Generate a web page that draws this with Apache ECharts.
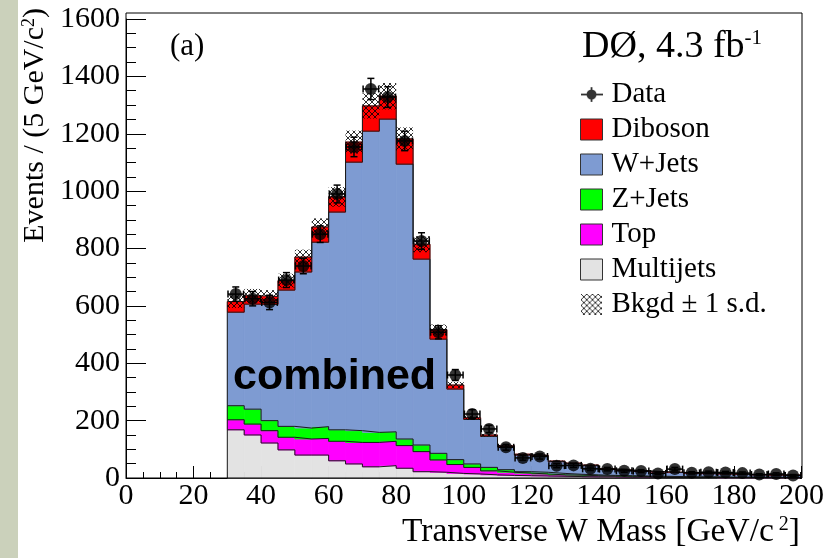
<!DOCTYPE html>
<html><head><meta charset="utf-8">
<script src="https://cdn.jsdelivr.net/npm/echarts@6/dist/echarts.min.js"></script>
<style>html,body{margin:0;padding:0;background:#fff}#c{width:827px;height:558px}</style>
</head><body><div id="c"></div>
<script>
// ---- data (bins of 5 GeV/c^2, lower edges) ----
const binLow = [30,35,40,45,50,55,60,65,70,75,80,85,90,95,100,105,110,115,120,125,130,135,140,145,150,155,160,165,170,175,180,185,190,195];
const binWidth = 5;
const multijets = [168,150,122,98,80,80,60,49,39,43,34,22,20,16,14,11,9,8,7,6,5,4,4,3,3,2,2,2,2,1,1,1,1,1];
const topQuark  = [35,38,43,44,56,58,68,75,85,85,79,70,43,31,23,14,11,9,7,5,5,4,3,3,2,2,2,1,1,1,1,1,1,1];
const zjets     = [49,52,35,38,38,41,40,41,35,33,23,23,23,17,12,12,9,5,6,5,3,3,2,2,2,2,1,1,1,1,1,1,0,0];
const wjets     = [326,366,405,475,544,643,759,936,1050,1090,958,648,398,246,155,108,79,58,56,41,37,32,21,19,17,15,14,13,11,11,9,8,8,7];
const diboson   = [37,29,28,33,52,53,53,70,88,80,88,52,33,14,6,5,4,3,3,2,2,2,2,1,1,1,1,1,1,1,1,1,1,1];
const bkgdErr   = [22,24,22,24,26,30,34,40,44,46,40,28,18,11,7,5,4,3,3,2,2,2,2,1,1,1,1,1,1,1,1,1,1,1];
const dataVals  = [641,625,612,690,739,850,990,1154,1356,1328,1175,826,508,359,223,171,107,70,75,43,44,32,31,25,24,16,31,18,20,19,17,12,14,9];
const dataErr   = [25,25,25,26,27,29,31,34,37,36,34,29,23,19,15,13,10,8,9,7,7,6,6,5,5,4,6,4,4,4,4,3,4,3];
const yTicks = [0,200,400,600,800,1000,1200,1400,1600];
const xTicks = [0,20,40,60,80,100,120,140,160,180,200];

const SERIF = "'Liberation Serif','Times New Roman',serif";

const comps = [
  {name:'Multijets', vals:multijets, color:'#e3e3e3'},
  {name:'Top',       vals:topQuark,  color:'#ff00ff'},
  {name:'Z+Jets',    vals:zjets,     color:'#00ff00'},
  {name:'W+Jets',    vals:wjets,     color:'#7e9bd2'},
  {name:'Diboson',   vals:diboson,   color:'#ff0000'}
];
let base = binLow.map(() => 0);
comps.forEach(c => { c.lo = base.slice(); c.hi = base.map((b,i) => b + c.vals[i]); base = c.hi; });
const total = base;

function hatchCanvas(){
  const cv = document.createElement('canvas'); cv.width = 6; cv.height = 6;
  const g = cv.getContext('2d');
  g.strokeStyle = 'rgba(0,0,0,0.9)'; g.lineWidth = 0.9;
  g.beginPath(); g.moveTo(0,0); g.lineTo(6,6); g.moveTo(6,0); g.lineTo(0,6); g.stroke();
  return cv;
}
const hatch = hatchCanvas();
function hatchIcon(){
  const cv = document.createElement('canvas'); cv.width = 22; cv.height = 22;
  const g = cv.getContext('2d');
  g.fillStyle = '#fff'; g.fillRect(0,0,22,22);
  g.fillStyle = g.createPattern(hatch,'repeat'); g.fillRect(0,0,22,22);
  return 'image://' + cv.toDataURL();
}
function dataIcon(){
  const cv = document.createElement('canvas'); cv.width = 24; cv.height = 22;
  const g = cv.getContext('2d');
  g.strokeStyle = '#000'; g.lineWidth = 2;
  g.beginPath(); g.moveTo(0,11); g.lineTo(24,11); g.moveTo(12,3); g.lineTo(12,19); g.stroke();
  g.fillStyle = '#000'; g.beginPath(); g.arc(12,11,5.5,0,Math.PI*2); g.fill();
  return 'image://' + cv.toDataURL();
}

const series = [];
comps.forEach(c => {
  series.push({
    type:'custom', name:c.name, z:2, silent:true,
    itemStyle:{color:c.color},
    data: binLow.map((x,i) => [x, x + binWidth, c.lo[i], c.hi[i]]),
    encode:{x:[0,1], y:[2,3]},
    renderItem:(params, api) => {
      const p0 = api.coord([api.value(0), api.value(3)]);
      const p1 = api.coord([api.value(1), api.value(2)]);
      return {type:'rect', shape:{x:p0[0], y:p0[1], width:p1[0]-p0[0], height:p1[1]-p0[1]},
              style:{fill:c.color, stroke:c.color, lineWidth:0.8}};
    }
  });
});
comps.forEach(c => {
  const pts = [[binLow[0], c.lo[0]]];
  binLow.forEach((x,i) => { pts.push([x, c.hi[i]]); pts.push([x + binWidth, c.hi[i]]); });
  pts.push([binLow[binLow.length-1] + binWidth, c.lo[c.lo.length-1]]);
  series.push({type:'line', name:'outline ' + c.name, data:pts, z:3, silent:true,
    showSymbol:false, symbol:'none', lineStyle:{color:'#1a1a1a', width:1}});
});
series.push({
  type:'custom', name:'Bkgd \u00b1 1 s.d.', z:4, silent:true,
  itemStyle:{color:'#888'},
  data: binLow.map((x,i) => [x, x + binWidth, total[i] - bkgdErr[i], total[i] + bkgdErr[i]]),
  encode:{x:[0,1], y:[2,3]},
  renderItem:(params, api) => {
    const p0 = api.coord([api.value(0), api.value(3)]);
    const p1 = api.coord([api.value(1), api.value(2)]);
    return {type:'rect', shape:{x:p0[0], y:p0[1], width:p1[0]-p0[0], height:p1[1]-p0[1]},
            style:{fill:{image:hatch, repeat:'repeat'}}};
  }
});
series.push({
  type:'custom', name:'Data errors', z:5, silent:true,
  data: binLow.map((x,i) => [x + binWidth/2, dataVals[i], dataErr[i]]),
  encode:{x:0, y:1},
  renderItem:(params, api) => {
    const x = api.value(0), y = api.value(1), e = api.value(2);
    const c = api.coord([x,y]), t = api.coord([x,y+e]), b = api.coord([x,y-e]);
    const l = api.coord([x - 2.3, y]), r = api.coord([x + 2.3, y]);
    const cap = 3.5, st = {stroke:'#000', lineWidth:1.5};
    return {type:'group', children:[
      {type:'line', shape:{x1:c[0], y1:t[1], x2:c[0], y2:b[1]}, style:st},
      {type:'line', shape:{x1:c[0]-cap, y1:t[1], x2:c[0]+cap, y2:t[1]}, style:st},
      {type:'line', shape:{x1:c[0]-cap, y1:b[1], x2:c[0]+cap, y2:b[1]}, style:st},
      {type:'line', shape:{x1:l[0], y1:c[1], x2:r[0], y2:c[1]}, style:st},
      {type:'line', shape:{x1:l[0], y1:c[1]-cap, x2:l[0], y2:c[1]+cap}, style:st},
      {type:'line', shape:{x1:r[0], y1:c[1]-cap, x2:r[0], y2:c[1]+cap}, style:st}
    ]};
  }
});
series.push({
  type:'scatter', name:'Data', z:6, silent:true, symbol:'circle', symbolSize:12,
  itemStyle:{color:'#000'},
  data: binLow.map((x,i) => [x + binWidth/2, dataVals[i]])
});

const legendData = [
  {name:'Data', icon:dataIcon()},
  {name:'Diboson', icon:'rect', itemStyle:{color:'#ff0000', borderColor:'#333', borderWidth:1}},
  {name:'W+Jets', icon:'rect', itemStyle:{color:'#7e9bd2', borderColor:'#333', borderWidth:1}},
  {name:'Z+Jets', icon:'rect', itemStyle:{color:'#00ff00', borderColor:'#333', borderWidth:1}},
  {name:'Top', icon:'rect', itemStyle:{color:'#ff00ff', borderColor:'#333', borderWidth:1}},
  {name:'Multijets', icon:'rect', itemStyle:{color:'#e3e3e3', borderColor:'#333', borderWidth:1}},
  {name:'Bkgd \u00b1 1 s.d.', icon:hatchIcon()}
];

const chart = echarts.init(document.getElementById('c'), null, {renderer:'canvas'});
chart.setOption({
  animation:false,
  backgroundColor:'#ffffff',
  grid:{left:126, right:25, top:19, bottom:80, containLabel:false},
  xAxis:{type:'value', min:0, max:200, interval:20,
    axisLine:{show:true, lineStyle:{color:'#000', width:1}},
    axisTick:{show:true, inside:true, length:12, lineStyle:{color:'#000'}},
    minorTick:{show:true, splitNumber:4, length:6, lineStyle:{color:'#000'}},
    splitLine:{show:false},
    axisLabel:{color:'#000', fontFamily:SERIF, fontSize:30, margin:3,
      formatter:v => xTicks.indexOf(v) >= 0 ? String(v) : ''}
  },
  yAxis:{type:'value', min:0, max:1600, interval:200,
    axisLine:{show:true, lineStyle:{color:'#000', width:1}},
    axisTick:{show:true, inside:true, length:20, lineStyle:{color:'#000'}},
    minorTick:{show:true, splitNumber:4, length:10, lineStyle:{color:'#000'}},
    splitLine:{show:false},
    axisLabel:{color:'#000', fontFamily:SERIF, fontSize:30, margin:6,
      formatter:v => yTicks.indexOf(v) >= 0 ? String(v) : ''}
  },
  legend:{orient:'vertical', left:580, top:80, padding:0, itemWidth:22, itemHeight:21, itemGap:6,
    selectedMode:false, data:legendData,
    textStyle:{fontFamily:SERIF, fontSize:29, color:'#000', padding:[0,0,0,4]}},
  graphic:[
    {type:'rect', shape:{x:0, y:0, width:18, height:558}, style:{fill:'#cbd1bb'}, silent:true},
    {type:'rect', shape:{x:126, y:13, width:676, height:465}, style:{fill:null, stroke:'#000', lineWidth:1}, silent:true, z:10},
    {type:'text', x:170, y:47, style:{text:'(a)', font:'31px ' + SERIF, fill:'#000', textVerticalAlign:'middle'}},
    {type:'text', x:582, y:47, style:{text:'{n|D\u00d8, 4.3 fb}{s|-1}', textVerticalAlign:'middle',
      rich:{n:{fontFamily:SERIF, fontSize:38, color:'#000'}, s:{fontFamily:SERIF, fontSize:21, color:'#000', verticalAlign:'top'}}}},
    {type:'text', x:233, y:377, z:20, style:{text:'combined', font:'bold 43px "Liberation Sans", Arial, sans-serif', fill:'#000', textVerticalAlign:'middle'}},
    {type:'text', x:800, y:532, style:{text:'{n|Transverse W Mass [GeV/c}{s| 2}{n|]}', textAlign:'right', textVerticalAlign:'middle',
      rich:{n:{fontFamily:SERIF, fontSize:33.5, color:'#000'}, s:{fontFamily:SERIF, fontSize:20, color:'#000', verticalAlign:'top'}}}},
    {type:'text', x:20, y:8, rotation:Math.PI/2, style:{text:'{n|Events / (5 GeV/c}{s|2}{n|)}', textAlign:'right', textVerticalAlign:'top',
      rich:{n:{fontFamily:SERIF, fontSize:30, color:'#000'}, s:{fontFamily:SERIF, fontSize:18, color:'#000', verticalAlign:'top'}}}}
  ],
  series:series
});
</script>
</body></html>
